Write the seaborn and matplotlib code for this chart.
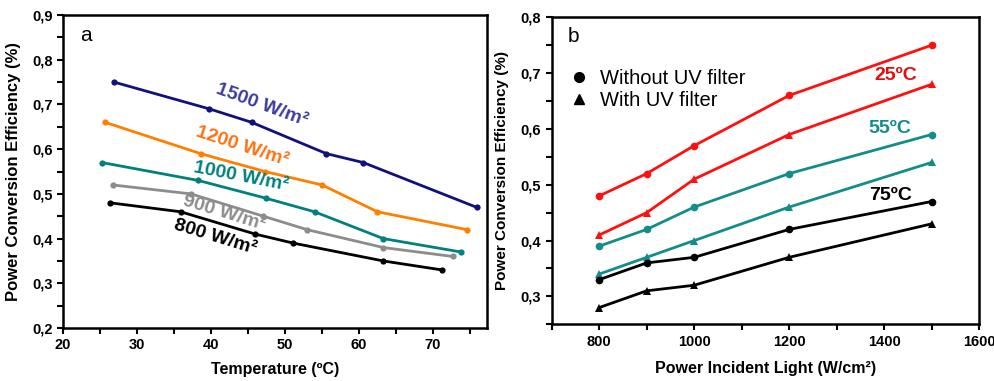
import numpy as np
import pandas as pd
import matplotlib
matplotlib.use('Agg')
import matplotlib.pyplot as plt
import seaborn as sns
from matplotlib.ticker import MultipleLocator, FuncFormatter
from matplotlib.lines import Line2D

# Panel a: efficiency vs temperature for each irradiance
t1500 = [26.9, 39.8, 45.5, 55.6, 60.6, 75.9]
e1500 = [0.75, 0.69, 0.66, 0.59, 0.57, 0.47]
t1200 = [25.7, 38.6, 47.3, 55.0, 62.5, 74.6]
e1200 = [0.66, 0.59, 0.55, 0.52, 0.46, 0.42]
t1000 = [25.3, 38.3, 47.5, 54.0, 63.3, 73.8]
e1000 = [0.57, 0.53, 0.49, 0.46, 0.40, 0.37]
t900 = [26.7, 37.3, 47.1, 53.0, 63.3, 72.7]
e900 = [0.52, 0.50, 0.45, 0.42, 0.38, 0.36]
t800 = [26.4, 35.9, 46.0, 51.1, 63.3, 71.2]
e800 = [0.48, 0.46, 0.41, 0.39, 0.35, 0.33]

# Panel b: efficiency vs incident power, with / without UV filter
power = [800, 900, 1000, 1200, 1500]
c25_no = [0.48, 0.52, 0.57, 0.66, 0.75]
c25_uv = [0.41, 0.45, 0.51, 0.59, 0.68]
c55_no = [0.39, 0.42, 0.46, 0.52, 0.59]
c55_uv = [0.34, 0.37, 0.40, 0.46, 0.54]
c75_no = [0.33, 0.36, 0.37, 0.42, 0.47]
c75_uv = [0.28, 0.31, 0.32, 0.37, 0.43]

sns.set_style('ticks')
plt.rcParams['font.family'] = ['Liberation Sans', 'DejaVu Sans']
plt.rcParams['text.color'] = 'black'
plt.rcParams['axes.labelcolor'] = 'black'
plt.rcParams['xtick.color'] = 'black'
plt.rcParams['ytick.color'] = 'black'
plt.rcParams['axes.edgecolor'] = 'black'

fig = plt.figure(figsize=(9.95, 3.81), dpi=100)
axA = fig.add_axes([0.0633, 0.139, 0.4261, 0.8216])
axB = fig.add_axes([0.5545, 0.1488, 0.4295, 0.8058])

# ---- panel a
rows = []
for lab, tt, ee in [('1500', t1500, e1500), ('1200', t1200, e1200), ('1000', t1000, e1000),
                    ('900', t900, e900), ('800', t800, e800)]:
    for t, e in zip(tt, ee):
        rows.append({'irr': lab, 'T': t, 'eff': e})
dfA = pd.DataFrame(rows)
palA = {'1500': '#10107e', '1200': '#ff8000', '1000': '#008080', '900': '#8c8c8c', '800': '#000000'}
sns.lineplot(data=dfA, x='T', y='eff', hue='irr', palette=palA, marker='o', markersize=4.5,
             markeredgewidth=0, linewidth=2, legend=False, ax=axA, sort=False)

labelsA = [('1500 W/m²', 46.9, 0.699, -20, '#3c3c9c'),
           ('1200 W/m²', 44.2, 0.605, -18, '#ff7010'),
           ('1000 W/m²', 44.1, 0.538, -11, '#008080'),
           ('900 W/m²', 41.8, 0.457, -17, '#8c8c8c'),
           ('800 W/m²', 40.5, 0.403, -17, '#000000')]
for txt, x, y, rot, col in labelsA:
    axA.text(x, y, txt, color=col, fontsize=14, fontweight='bold', rotation=rot,
             ha='center', va='center', rotation_mode='anchor')
axA.text(0.054, 0.936, 'a', transform=axA.transAxes, fontsize=15, ha='center', va='center')

axA.set_xlim(20, 77.3)
axA.set_ylim(0.2, 0.9)
axA.xaxis.set_major_locator(MultipleLocator(10))
axA.xaxis.set_minor_locator(MultipleLocator(5))
axA.yaxis.set_major_locator(MultipleLocator(0.1))
axA.yaxis.set_minor_locator(MultipleLocator(0.05))
axA.set_xlabel('Temperature (ºC)', fontsize=11.5, fontweight='bold')
axA.set_ylabel('Power Conversion Efficiency (%)', fontsize=12, fontweight='bold')

# ---- panel b
rows = []
for temp, filt, vals in [('25', 'no', c25_no), ('25', 'uv', c25_uv), ('55', 'no', c55_no),
                         ('55', 'uv', c55_uv), ('75', 'no', c75_no), ('75', 'uv', c75_uv)]:
    for p, v in zip(power, vals):
        rows.append({'temp': temp, 'filt': filt, 'P': p, 'eff': v})
dfB = pd.DataFrame(rows)
palB = {'25': '#ff1010', '55': '#138c8c', '75': '#000000'}
sns.lineplot(data=dfB, x='P', y='eff', hue='temp', style='filt', palette=palB,
             markers={'no': 'o', 'uv': '^'}, dashes=False, markersize=5.5, markeredgewidth=0,
             linewidth=2, legend=False, ax=axB)

for txt, x, y, col in [('25ºC', 1424, 0.695, '#e01010'), ('55ºC', 1413, 0.600, '#138c8c'),
                       ('75ºC', 1413, 0.480, '#000000')]:
    axB.text(x, y, txt, color=col, fontsize=14, fontweight='bold', ha='center', va='center')
axB.text(0.05, 0.937, 'b', transform=axB.transAxes, fontsize=15, ha='center', va='center')

handles = [Line2D([], [], color='black', marker='o', linestyle='none', markersize=7),
           Line2D([], [], color='black', marker='^', linestyle='none', markersize=7)]
axB.legend(handles, ['Without UV filter', 'With UV filter'], loc='upper left',
           bbox_to_anchor=(0.0, 0.87), frameon=False, fontsize=14.5, handletextpad=0.3,
           labelspacing=0.15, borderaxespad=0.2, handlelength=1.5)

axB.set_xlim(700, 1600)
axB.set_ylim(0.25, 0.8)
axB.xaxis.set_major_locator(MultipleLocator(200))
axB.xaxis.set_minor_locator(MultipleLocator(100))
axB.yaxis.set_major_locator(MultipleLocator(0.1))
axB.yaxis.set_minor_locator(MultipleLocator(0.05))
axB.set_xlabel('Power Incident Light (W/cm²)', fontsize=11.5, fontweight='bold')
axB.set_ylabel('Power Conversion Efficiency (%)', fontsize=11, fontweight='bold')

comma = FuncFormatter(lambda v, pos: ('%.1f' % v).replace('.', ','))
for ax in (axA, axB):
    ax.yaxis.set_major_formatter(comma)
    ax.tick_params(which='both', direction='out', width=1.5, top=False, right=False,
                   labelsize=10.5)
    ax.tick_params(which='major', length=4)
    ax.tick_params(which='minor', length=4)
    for lab in ax.get_xticklabels() + ax.get_yticklabels():
        lab.set_fontweight('bold')
    for sp in ax.spines.values():
        sp.set_linewidth(1.8)
        sp.set_visible(True)

axA.yaxis.set_label_coords(-0.1, 0.5)
axB.yaxis.set_label_coords(-0.1, 0.5)
axA.xaxis.set_label_coords(0.5, -0.11)
axB.xaxis.set_label_coords(0.5, -0.12)

fig.savefig('out.png', dpi=100)
